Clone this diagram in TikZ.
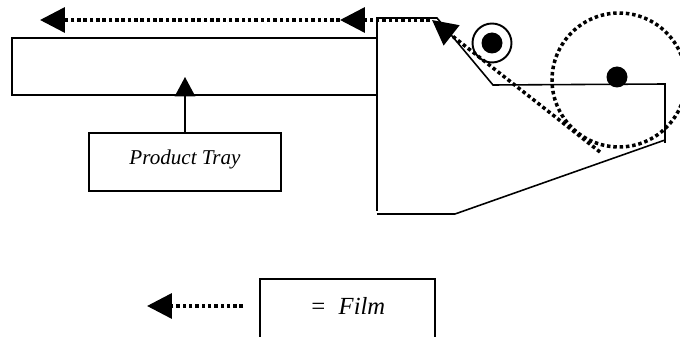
\documentclass[tikz,border=0pt]{standalone}
\usepackage{fontspec}
\setmainfont{Liberation Serif}
\usetikzlibrary{arrows.meta}
\tikzset{
  solidline/.style={black, line width=0.9pt},
  film/.style={black, line width=2pt, dash pattern=on 2pt off 1.6pt, -{Triangle[length=14.2pt,width=14.2pt]}},
  labelbox/.style={draw=black, line width=0.9pt, fill=white, font=\itshape, inner sep=0pt},
  dot/.style={circle, fill=black, inner sep=0pt, minimum size=0.42cm}
}
\begin{document}
\begin{tikzpicture}[x=0.02cm,y=-0.02cm]
  \useasboundingbox (0,0) rectangle (680,337);

  % Tray and machine outline
  \node[draw=black, line width=0.9pt, minimum width=7.3cm, minimum height=1.14cm, inner sep=0pt] (tray) at (194.5,66.5) {};
  \coordinate (topleft) at (377,18);
  \coordinate (topright) at (437,18);
  \coordinate (notch) at (493,85);
  \coordinate (shelf) at (665,84);
  \coordinate (corner) at (665,140);
  \coordinate (foot) at (455,214);
  \coordinate (base) at (377,214);
  \draw[solidline] (base) -- (foot) -- (corner);
  \draw[solidline] (377,211) -- (topleft) -- (topright) -- (notch) -- (shelf) -- (665,143);

  % Rollers
  \node[draw=black, line width=1.1pt, circle, inner sep=0pt, minimum size=0.78cm] (idler) at (492,43) {};
  \node[dot] (idlercore) at (492,43) {};
  \node[draw=black, line width=2pt, dash pattern=on 2pt off 1.6pt, circle, inner sep=0pt, minimum size=2.68cm] (reel) at (619,80) {};
  \node[dot] (reelcore) at (617,77) {};

  % Film path
  \coordinate (filmstart) at (600,152);
  \coordinate (filmturn) at (432,20);
  \coordinate (filmtop) at (430,20);
  \coordinate (filmmid) at (340,20);
  \coordinate (filmend) at (40,20);
  \draw[film] (filmstart) -- (filmturn);
  \draw[film] (filmtop) -- (filmmid);
  \draw[film] (filmmid) -- (filmend);

  % Product tray label
  \node[labelbox, text depth=5.5pt, minimum width=3.84cm, minimum height=1.16cm] (product) at (185,162) {\fontsize{12pt}{14pt}\selectfont Product Tray};
  \coordinate (traytip) at (185,77);
  \draw[solidline, -{Triangle[length=11pt,width=11.5pt]}] (product) -- (traytip);

  % Legend
  \node[labelbox, text depth=3pt, minimum width=3.5cm, minimum height=1.18cm] (legend) at (347.5,308.5) {\fontsize{14pt}{16pt}\selectfont =\ \ Film};
  \coordinate (legendstart) at (243,306);
  \coordinate (legendend) at (147,306);
  \draw[film] (legendstart) -- (legendend);
\end{tikzpicture}
\end{document}
